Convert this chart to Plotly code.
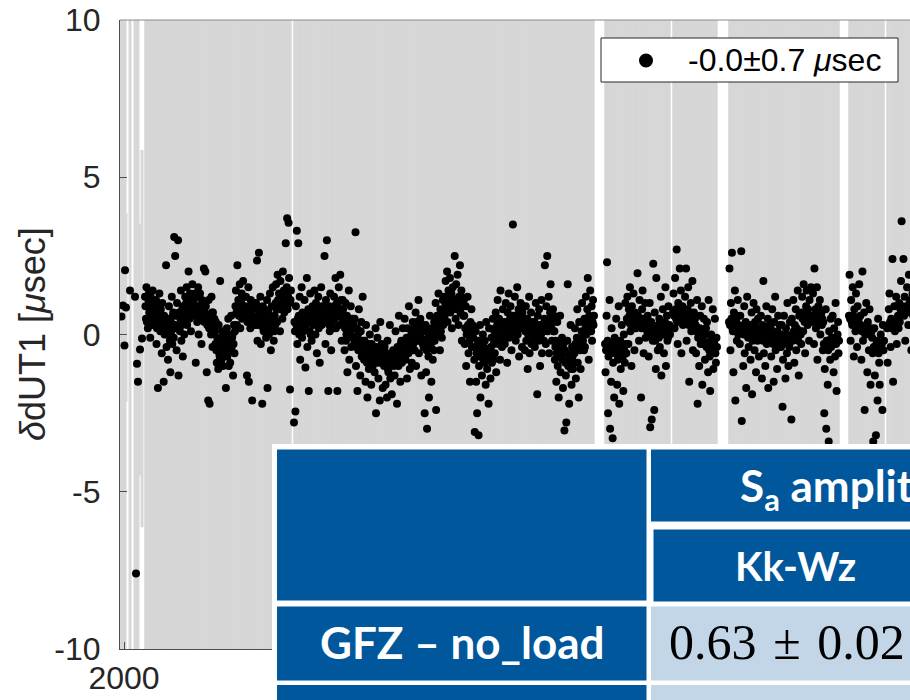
import numpy as np
import plotly.graph_objects as go

# ---------------------------------------------------------------------------
# dUT1 residuals (microseconds) of the Kk-Wz intensive sessions.
# Each observing span is given by its first/last epoch (decimal year);
# sessions inside a span are daily, so epochs are spread evenly over it.
# ---------------------------------------------------------------------------

# scattered sessions at the very start of 2000: epoch, residual, formal error
early_epoch = [1999.958, 1999.983, 2000.008, 2000.017, 2000.033, 2000.100,
               2000.183, 2000.200, 2000.217, 2000.233, 2000.267, 2000.300]
early_dut1 = [0.57, 0.92, -0.35, 2.04, 0.86, 1.4, 1.2, -7.6, -0.93, -1.5, -0.48, -0.13]
early_sigma = [30, 30, 30, 30, 3, 30, 30, 0.5, 30, 30, 4, 6]

span_a1 = (2000.350, 2002.783)
dut1_a1 = [
    1.2, 0.9, 0.5, 1.5, 0.4, 0.9, 0.2, 1.1, 1.3, 0.7, 0.7, -0.1, 1.2, 1.0, 0.6, 0.5, 1.4, 0.3, 0.8, 0.8, 1.0,
    0.4, 0.7, 1.1, -0.3, 0.2, 0.9, -1.7, 0.5, 0.6, 1.3, 0.8, 0.1, 0.8, 0.3, -0.6, 1.0, 0.4, 0.3, -1.5, 0.6, 0.0,
    0.2, 0.5, 2.2, -0.4, 0.0, 0.5, -0.8, 0.3, 0.9, 0.0, -0.2, -1.2, 0.4, 0.1, 1.2, -0.3, 0.6, 0.7, -0.1, 3.1, 0.2,
    2.5, 0.3, 0.6, -0.5, 1.0, 0.2, 3.0, -1.3, 0.7, 0.6, 0.1, 0.5, 1.4, -0.2, 0.3, 0.8, -0.7, 0.9, 0.4, 0.0, 0.6,
    1.2, 0.7, 1.0, 1.5, 0.3, 0.8, 1.0, 2.0, 1.1, 0.5, 1.3, 0.6, 0.1, 0.9, 1.2, 1.6, 0.6, 0.8, 1.1, 0.9, 1.3,
    0.8, -0.9, 0.6, 1.2, 0.4, 0.9, 1.5, 0.0, 0.7, 0.9, 1.3, 0.5, 0.6, -0.3, 1.1, 0.8, 0.5, 1.0, 2.1, 0.4, 0.7,
    2.0, 0.9, 0.5, -1.2, 0.3, 0.6, -2.1, 1.1, 0.2, -2.2, 0.6, 0.4, 0.0, 1.2, 0.7, -0.4, 0.7, 0.3, 0.2, 0.5, 0.1,
    -0.3, 0.4, -0.5, -0.9, -0.1, -0.2, -1.1, 0.3, -0.6, -0.7, 1.7, -0.4, -0.3, -0.8, 0.1, -0.5, -1.0, -0.2, 0.0, -0.6, -0.4,
    -0.5, -1.7, -0.2, 0.2, -0.7, -0.4, 0.5, -1.0, 0.0, -0.2, -0.9, -0.5, 0.6, -0.4, -0.1, 0.0, -1.3, -0.3, 0.3, -0.6, 0.1,
    0.9, 1.4, 0.7, 0.3, 2.2, 0.9, 1.1, 0.6, 1.0, 1.6, 0.2, 0.8, 1.0, 1.3, 0.5, 0.7, 1.7, 0.8, 1.2, 0.6, 0.9,
    0.7, 1.2, 0.5, -1.3, 0.4, 0.8, 1.5, -1.5, 0.9, 0.6, 0.2, 1.1, 0.7, 0.6, -2.1, 0.8, 0.4, 0.3, 0.9, 0.5, 1.0,
    0.5, 1.0, 0.3, 2.35, -0.2, 0.6, 0.8, 2.6, 0.3, 0.4, 1.2, -0.3, 0.7, 0.6, -2.2, 0.9, 0.2, 0.1, 0.5, 0.8, 0.3,
    0.4, -0.1, 0.5, 1.1, -1.7, 0.2, 0.7, 0.0, 0.6, 1.3, 0.5, -0.5, 0.3, 0.9, 0.2, 1.5, 0.4, -0.2, 0.1, 0.6, 0.3,
    1.0, 1.6, 0.8, 0.4, 1.9, 1.1, 0.8, 1.3, 0.9, 0.1, 1.7, 1.2, 0.9, 1.2, 0.5, 2.0, 1.0, 1.4, 0.7, 1.1, 1.3,
    2.9, 1.3, 1.5, 3.7, 0.8, 1.2, 3.55, 1.8, 1.0, -1.75, 1.1, 1.4,
]

span_a2 = (2002.833, 2007.833)
dut1_a2 = [
    -2.8, 0.4, 0.1, -2.45, 0.9, 0.3, 3.3, -0.3, 0.5, 2.9, 0.6, 0.0, 1.2, -0.8, 0.4, 0.2, 1.5, -0.1, 0.7, 0.3, 0.1,
    0.5, 1.1, 0.2, -1.05, 0.3, 0.6, 1.8, -0.4, 0.4, 0.8, -1.8, 0.5, 0.1, 1.3, 0.0, 0.6, -0.2, 0.7, 0.9, 0.3, 0.4,
    0.7, 1.4, 0.4, 0.0, 1.0, 0.6, -0.6, 0.5, 0.8, 1.2, 0.2, 0.3, -0.9, 0.8, 0.6, 1.5, 0.3, 0.9, 0.6, 0.4, 0.7,
    0.4, 2.5, 0.6, -0.3, 1.1, 0.5, 3.0, 0.6, 0.8, -1.8, 0.9, 0.3, 0.1, 1.3, 0.7, -0.5, 0.7, 0.4, 0.2, 0.6, 0.9,
    1.2, 0.5, 0.8, 1.8, 0.2, 0.6, 1.0, -1.8, 0.9, 0.8, 1.5, 0.3, 0.7, 1.9, 0.6, 1.1, -0.2, 0.5, 1.1, 0.8, 0.6,
    0.3, -0.5, 0.2, 1.0, -0.2, 0.0, 0.6, -1.2, 0.3, 0.4, 1.4, -0.8, 0.1, 0.0, 0.9, -0.4, 0.2, 0.5, -0.1, 0.2, 0.3,
    -0.3, 0.5, -0.1, 3.25, -1.0, -0.4, 0.2, -1.8, 0.0, -0.5, 0.8, -0.3, -0.2, -1.3, 0.1, 0.4, -0.7, -0.4, 1.2, -0.2, -0.6,
    -0.8, -0.2, -0.5, -1.5, 0.3, -0.7, -0.9, -2.0, -0.6, -0.4, -1.1, -0.3, 0.0, -0.7, -0.8, -1.6, -0.3, -0.5, -1.0, -0.6, -0.9,
    -0.5, -1.2, -0.7, 0.2, -2.5, -0.4, -0.8, -0.1, -0.9, -1.4, -0.6, -0.5, -2.1, 0.4, -0.8, -0.9, -0.3, -0.6, -1.7, -0.4, -0.7,
    -1.0, -0.4, -0.9, -1.6, -0.7, -0.6, -2.0, -0.2, -1.1, -1.2, -0.9, -0.8, 0.3, -1.4, -0.7, -0.6, -1.9, -0.9, -0.8, -0.5, -1.0,
    -0.6, -1.3, -0.8, 0.1, -0.9, -0.5, -2.2, -0.4, -0.7, -1.0, 0.6, -0.9, -0.7, -1.5, -0.3, -0.2, -0.9, -0.6, 0.2, -0.8, -0.5,
    -0.2, 0.5, -0.4, -0.8, -0.3, -0.1, -1.4, 0.2, -0.5, -0.6, 0.9, -0.3, -1.1, -0.4, -0.2, 0.0, -0.9, -0.5, 0.4, -0.3, -0.1,
    0.2, -0.5, 0.1, 0.7, -1.0, -0.2, 0.4, -0.2, 0.3, 1.1, -0.6, 0.0, 0.0, 0.5, -0.1, -1.3, 0.3, 0.2, -0.3, 0.1, -0.4,
    -0.4, -2.5, -0.2, 0.3, -1.2, -0.5, -3.0, 0.1, -0.1, -0.7, -2.0, -0.3, 0.6, -0.3, -0.4, -1.5, 0.2, 0.0, -0.8, -0.2, -0.5,
    0.4, -0.2, 0.3, 1.0, -2.4, 0.5, 0.6, 0.0, 0.2, 1.3, 0.2, 0.4, -0.5, 0.8, 0.1, 0.5, -0.1, 0.6, 1.1, 0.3, 0.4,
    1.2, 0.6, 1.0, 1.7, 0.9, 0.8, 2.0, 0.4, 1.1, 1.4, 1.0, 0.9, 1.8, 0.7, 1.2, 1.3, 0.2, 1.0, 1.5, 0.8, 1.1,
    1.0, 2.5, 0.9, 0.5, 1.6, 1.1, 0.8, 1.9, 1.0, 0.3, 1.2, 0.8, 2.2, 0.7, 1.2, 1.4, -0.2, 1.0, 0.9, 0.6, 1.1,
    0.6, -0.3, 0.2, 0.9, -1.0, 0.0, 0.2, 1.2, 0.3, -0.6, 0.0, -0.2, -1.5, 0.4, 0.1, 0.8, -0.4, 0.3, 0.1, -0.1, 0.2,
    -0.8, -3.1, -0.4, 0.1, -1.5, -0.6, -2.5, -0.3, -0.2, -3.2, -1.0, -0.7, 0.3, -2.0, -0.5, -0.6, -1.3, -0.3, 0.0, -0.8, -0.4,
    -0.9, -0.2, -0.7, -1.6, 0.4, -0.5, -1.1, -0.5, -0.8, -2.2, 0.2, -0.6, -0.7, -1.4, -0.4, -0.1, -0.9, -0.6, 0.5, -0.8, -0.3,
    0.1, -0.6, 0.2, 0.7, -1.2, -0.1, 0.3, 1.1, 0.0, -0.3, 0.5, 0.3, -0.8, 1.4, -0.2, 0.0, -0.4, 0.1, 0.8, -0.1, 0.2,
    0.4, -0.3, 0.3, 1.0, 0.2, 0.1, -0.9, 0.7, 0.4, 1.3, -0.1, 0.2, 0.5, 0.9, 0.0, -0.5, 0.3, 0.6, 3.5, 0.1, 0.4,
    0.6, 1.2, 0.5, -0.2, 0.4, 0.3, 1.5, 0.0, 0.6, 0.8, -0.7, 0.2, 0.3, 1.0, 0.5, 0.5, -0.4, 0.7, 0.9, 0.4, 0.2,
    0.2, -0.5, 0.1, 0.9, -0.2, 0.3, 0.5, -1.1, 0.0, 0.3, 1.2, -0.6, 0.2, 0.0, 0.7, -0.3, 0.1, 0.4, -0.1, 0.2, 0.0,
    0.4, -0.4, 0.2, 1.0, 0.0, -0.1, -1.9, 0.6, 0.1, -0.2, 0.8, 0.3, -1.0, 0.3, 0.0, 1.1, -0.6, 0.2, 0.2, 0.1, -0.2,
    0.5, 2.2, 0.3, -0.3, 0.9, 0.4, 2.5, 0.1, 0.2, 1.2, -0.6, 0.5, 0.7, 1.6, 0.3, 0.2, -0.2, 0.4, 0.8, 0.1, 0.6,
    0.1, -0.8, -0.4, -0.2, -1.5, -0.6, 0.4, -1.0, -0.3, -2.0, -0.4, -0.7, 0.6, -1.2, -0.5, -0.6, -0.1, -0.8, -1.7, -0.3, -0.5,
    -3.05, -0.5, -0.9, -1.3, -2.8, -0.6, -0.2, 1.6, -1.0, -1.0, -2.2, -0.8, -0.7, 0.3, -1.1, -1.6, -0.4, -0.7, -1.1, -0.9, -0.5,
    -0.6, 0.2, -0.3, -1.4, -0.3, -0.1, 0.8, -0.9, -0.4, -2.0, 0.4, -0.2, -0.5, -1.1, -0.3, 0.1, 1.0, -0.4, -0.2, 0.0, -0.5,
    0.5, -0.4, 0.3, 1.2, 0.0, 0.4, 0.8, 1.8, 0.2, -0.8, 0.6, 0.5, 1.4, 0.2, 0.1, 0.9, -0.2, 0.4, 1.1, 0.3, 0.6,
]

span_b1 = (2008.017, 2009.100)
dut1_b1 = [
    -0.3, -1.2, -0.5, 0.6, 2.3, -0.2, -2.5, -0.7, -0.4, 1.1, -3.0, -0.6, -1.5, 0.2, -0.3, -3.3, -0.9, -0.5, -2.0, -0.1, -0.6,
    -0.4, 0.5, -0.5, -1.6, -0.8, -0.3, 0.9, -2.2, -0.6, -0.2, -1.1, -0.4, 0.3, -0.6, -0.7, -1.8, 0.0, -0.5, -0.9, 1.0, -0.3, -0.6,
    0.5, 1.2, 0.4, -0.3, 0.8, 0.6, 1.5, 0.1, 0.3, -1.0, 0.9, 0.5, 0.4, 1.3, 0.2, -0.5, 0.7, 0.4, 0.2, 0.6, 0.3,
    1.95, 0.6, 0.3, -0.2, 1.1, 0.4, 0.3, -2.0, 0.2, 0.8, 1.4, 0.5, -0.6, 0.5, 0.3, 1.0, -0.1, 0.4, 0.4, 0.1, 0.6,
    0.2, -0.7, 0.0, 1.0, -2.95, 0.3, 0.4, -2.7, -0.1, -0.2, 2.25, 0.1, -2.4, 0.7, -0.2, -1.1, 1.8, 0.2, 0.0, -0.5, 0.3, -0.1,
    0.5, -0.4, 0.2, 1.2, -1.3, 0.0, 0.3, 0.8, 0.1, -0.6, 0.0, 0.4, 1.5, -1.0, 0.2, 0.6, -0.2, -0.1, 0.9, 0.2, 0.3, 0.0,
]

span_b2 = (2009.150, 2009.883)
dut1_b2 = [
    0.7, 1.3, 0.6, 0.2, 1.8, 0.8, 0.5, 2.7, 0.4, -0.3, 1.0, 0.7, 0.6, 2.1, 0.5, 1.4, -0.6, 0.8, 0.9, 0.3, 0.6, 0.5,
    0.4, 1.2, 0.6, 2.1, -0.2, 0.5, 0.8, 1.5, 0.3, -1.5, 0.6, 0.7, 1.0, 0.1, 0.4, 1.7, -0.5, 0.6, 0.7, 0.2, 0.5,
    0.3, -0.6, 0.1, 1.1, -2.2, -0.1, 0.0, -1.0, 0.2, 0.6, -0.3, -0.2, 0.9, -1.6, 0.1, -0.2, 0.5, -0.3, -0.8, 0.0, 0.2,
    -0.4, 0.4, -0.3, -1.2, 1.1, -0.5, -0.7, -1.8, -0.2, 0.0, -0.5, -0.4, 0.8, -1.1, -0.3, -0.2, 0.5, -0.6, -0.9, -0.1, -0.4,
]

span_c = (2010.083, 2011.917)
dut1_c = [
    0.4, 2.1, 0.3, -0.5, 1.0, 0.5, 2.6, 0.2, 0.1, -1.2, 0.7, 0.4, 1.4, -2.1, 0.3, 0.5, -0.2, 0.6, 1.1, 0.0, 0.3, 0.2,
    -0.3, 0.6, 0.1, 2.65, -2.75, 0.2, 0.2, -1.0, 0.0, 0.9, -0.6, 0.3, 0.4, -1.7, 0.1, 1.2, 0.0, -0.1, -0.4, 0.2, 0.1,
    0.3, -0.8, 0.0, 0.7, -1.9, -0.2, 0.1, 1.0, 0.2, -0.5, 0.4, -0.1, -1.2, 0.8, 0.0, -0.2, 0.5, 0.1, -0.7, -0.1, 0.2,
    -0.1, 0.6, 0.0, -1.4, 0.3, -0.2, 1.7, -0.6, 0.1, 0.2, -1.0, 0.0, 0.9, -0.3, 0.2, 0.5, -1.7, -0.1, 0.1, 0.3, -0.2,
    0.2, -0.7, -0.1, 0.8, -0.2, -0.3, -1.5, 0.4, 0.0, 1.2, -0.5, -0.2, 0.0, -1.1, 0.1, 0.6, -0.3, -0.1, 0.3, -0.4, 0.0,
    -0.4, 0.3, -0.2, -2.3, -0.8, -0.3, 0.6, -0.1, -0.2, -1.4, 0.2, 0.0, -0.6, 1.0, -0.3, -1.0, -0.3, -0.4, 0.4, -0.1, -0.2,
    -2.7, 0.5, 0.0, -0.2, 1.1, 0.1, -0.9, 0.3, -0.1, 0.8, -0.5, 0.2, 0.0, 1.4, -0.2, -1.3, 0.6, 0.1, 0.1, 0.0, -0.3,
    0.7, 1.2, 0.5, 0.1, 1.6, 0.6, 0.4, -0.6, 0.5, 0.9, 1.4, 0.7, 0.3, 0.8, 0.4, -0.2, 1.1, 0.6, 0.5, 1.5, 0.4, 0.6,
    0.6, 1.3, 0.5, -0.3, 2.1, 0.6, 0.8, 0.2, 0.4, 1.5, -0.8, 0.7, 0.9, 0.4, 0.5, 1.1, 0.0, 0.6, 0.7, 0.3, 0.5,
    -0.5, 0.4, -0.3, -2.5, -1.1, -0.4, 0.8, -3.0, -0.2, -0.2, -1.6, -0.5, -3.4, 0.1, -0.3, -0.8, 0.5, -0.4, -0.1,
    -0.3, 0.6, -0.2, -1.2, 0.2, -0.1, -0.7, 1.0, -0.3, -1.8, -0.1, 0.0, 0.4, -0.6, -0.2,
]

span_d1 = (2012.083, 2012.667)
dut1_d1 = [
    0.6, 1.9, 0.5, -0.2, 1.1, 0.4, 0.3, 1.5, 0.6, -0.7, 0.8, 0.3, 0.1, 1.3, 0.5, -0.4, 0.9, 0.4, 0.5, 1.6, 0.3, 0.6,
    0.3, -0.8, 0.1, 2.0, -0.2, 0.2, 0.7, -2.4, 0.0, 0.0, 1.0, 0.3, -1.2, 0.4, 0.1, -0.5, 0.8, 0.0, -1.6, 0.2, 0.1, -0.1,
    -0.6, -3.4, -0.4, 0.2, -1.3, -0.5, -3.2, -0.3, -0.2, -2.1, 0.5, -0.6, -0.9, -1.6, -0.4, 0.0, -0.5, -0.3, -2.4, 0.3, -0.5, -0.2,
]

span_d2 = (2012.717, 2013.183)
dut1_d2 = [
    0.2, -0.9, 0.3, 0.8, 1.3, 0.4, -0.4, 0.5, 0.2, 2.4, -1.5, 0.4, 0.9, 0.1, 0.3, 1.2, -0.3, 0.5, 0.6, 0.2,
    1.0, 0.4, 0.8, 1.7, 3.6, 0.9, 0.7, 2.4, 0.6, 1.2, -0.2, 0.8, 0.9, 1.5, 0.7, 0.3, 1.9, 1.0, 0.8, 1.1, -0.5, 0.9, 1.3, 0.6, 0.7, 2.0, 1.1,
]

# formal error of the daily sessions (they exceed the plotted range)
span_sigma = 30.0

legend_label = "-0.0\u00b10.7 <i>\u03bc</i>sec"
y_ticks = [-10, -5, 0, 5, 10]
y_ticklabels = ["-10", "-5", "0", "5", "10"]
x_ticks = [2000]
x_ticklabels = ["2000"]

# table overlay text
table_header = "S<sub>a</sub> amplitude [\u03bcs]"
table_station = "Kk-Wz"
table_row = "GFZ \u2013 no_load"
table_value = "0.63 \u200a\u00b1\u200a 0.02"

# ---------------------------------------------------------------------------
spans = [(span_a1, dut1_a1), (span_a2, dut1_a2), (span_b1, dut1_b1),
         (span_b2, dut1_b2), (span_c, dut1_c), (span_d1, dut1_d1),
         (span_d2, dut1_d2)]
epochs = np.concatenate([np.linspace(s[0], s[1], len(v)) for s, v in spans])
values = np.concatenate([np.asarray(v, float) for _, v in spans])

W, H = 910, 700
ML, MR, MT, MB = 120, 0, 20, 51
PW, PH = W - ML - MR, H - MT - MB
X_RANGE = [1999.9333, 1999.9333 + PW / 60.0]

GRAY = "#d7d7d7"
AXIS = "#262626"
BLUE = "#00579c"
LIGHT = "#c2d6e8"
FONT = "Liberation Sans"


def px(x):
    return (x - ML) / PW


def py(y):
    return (H - MB - y) / PH


fig = go.Figure()

# formal-error bars (light gray), drawn below the residual dots
fig.add_trace(go.Scatter(
    x=early_epoch, y=early_dut1, mode="markers",
    marker=dict(size=1, color="rgba(0,0,0,0)"),
    error_y=dict(type="data", array=early_sigma, color=GRAY, thickness=3, width=0),
    showlegend=False, hoverinfo="skip"))
fig.add_trace(go.Scatter(
    x=epochs, y=values, mode="markers",
    marker=dict(size=1, color="rgba(0,0,0,0)"),
    error_y=dict(type="constant", value=span_sigma, color=GRAY, thickness=1.4, width=0),
    showlegend=False, hoverinfo="skip"))

# residuals
fig.add_trace(go.Scatter(
    x=list(early_epoch) + list(epochs), y=list(early_dut1) + list(values),
    mode="markers", marker=dict(size=8, color="black", line=dict(width=0)),
    showlegend=False))

shapes = [
    dict(type="line", xref="paper", yref="paper", x0=0, x1=1, y0=1, y1=1,
         line=dict(color="#8a8a8a", width=1), layer="above"),
]


def rect(x0, y0, x1, y1, color, **kw):
    d = dict(type="rect", xref="paper", yref="paper",
             x0=px(x0), x1=px(x1), y0=py(y1), y1=py(y0),
             fillcolor=color, line=dict(width=0), layer="above")
    d.update(kw)
    return d


# legend box with its marker key
shapes += [
    rect(601, 38, 898, 82, "white", line=dict(color=AXIS, width=1)),
    dict(type="circle", xref="paper", yref="paper",
         xsizemode="pixel", ysizemode="pixel",
         xanchor=px(646), yanchor=py(60.5), x0=-7, x1=7, y0=-7, y1=7,
         fillcolor="black", line=dict(width=0), layer="above"),
]

# table cells
shapes += [
    rect(272, 444, 930, 720, "white"),
    rect(277, 449.5, 646.5, 600.5, BLUE),
    rect(651, 449.5, 930, 521.5, BLUE),
    rect(653.5, 529.5, 930, 601.5, BLUE),
    rect(277, 606.5, 646.5, 680.5, BLUE),
    rect(651, 606.5, 930, 680.5, LIGHT),
    rect(277, 685, 646.5, 720, BLUE),
    rect(651, 685, 930, 720, LIGHT),
]

annotations = [
    dict(text=legend_label, xref="paper", yref="paper",
         x=px(686), y=py(60), showarrow=False, xanchor="left", yanchor="middle",
         font=dict(family=FONT, size=32, color="black")),
    dict(text="<i>\u03b4</i>dUT1 [<i>\u03bc</i>sec]", xref="paper", yref="paper",
         x=px(32), y=py(334), textangle=-90, showarrow=False,
         xanchor="center", yanchor="middle",
         font=dict(family=FONT, size=36, color=AXIS)),
    dict(text="<b>" + table_header + "</b>", xref="paper", yref="paper",
         x=px(738), y=py(488), showarrow=False, xanchor="left", yanchor="middle",
         font=dict(family="Lato", size=44, color="white")),
    dict(text="<b>" + table_station + "</b>", xref="paper", yref="paper",
         x=px(795), y=py(566), showarrow=False, xanchor="center", yanchor="middle",
         font=dict(family="Lato", size=40, color="white")),
    dict(text="<b>" + table_row + "</b>", xref="paper", yref="paper",
         x=px(462), y=py(642), showarrow=False, xanchor="center", yanchor="middle",
         font=dict(family="Lato", size=44, color="white")),
    dict(text=table_value, xref="paper", yref="paper",
         x=px(667), y=py(642), showarrow=False, xanchor="left", yanchor="middle",
         font=dict(family="Liberation Serif", size=50, color="black")),
]

fig.update_layout(
    width=W, height=H,
    margin=dict(l=ML, r=MR, t=MT, b=MB, pad=0),
    paper_bgcolor="white", plot_bgcolor="white",
    font=dict(family=FONT, color=AXIS),
    shapes=shapes, annotations=annotations,
    showlegend=False,
    xaxis=dict(range=X_RANGE, showgrid=False, zeroline=False,
               showline=True, linecolor="#4d4d4d", linewidth=1.2,
               ticks="inside", ticklen=7, tickcolor="#4d4d4d",
               tickvals=x_ticks, ticktext=x_ticklabels,
               tickfont=dict(family=FONT, size=32, color=AXIS)),
    yaxis=dict(range=[-10, 10], showgrid=False, zeroline=False,
               showline=True, linecolor="#4d4d4d", linewidth=1.2,
               ticks="inside", ticklen=7, tickcolor="#4d4d4d",
               tickvals=y_ticks, ticktext=y_ticklabels,
               ticklabelstandoff=12,
               tickfont=dict(family=FONT, size=32, color=AXIS)),
)

fig.write_html("out.html")
